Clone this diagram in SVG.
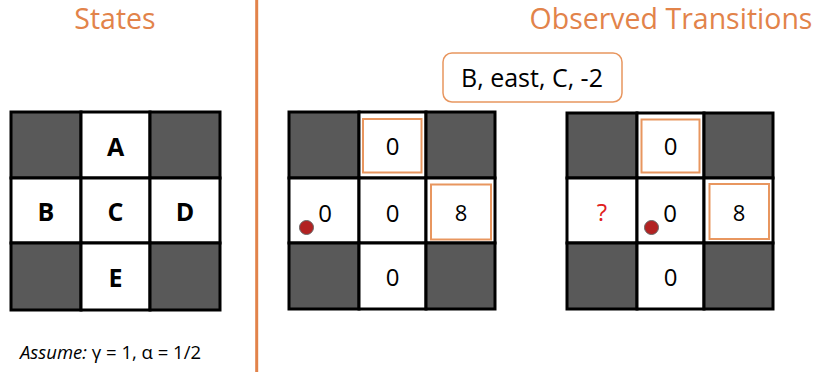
<svg xmlns="http://www.w3.org/2000/svg" width="815" height="372" viewBox="0 0 815 372">
<style>
.title{font-family:"Open Sans","Noto Sans",sans-serif;font-size:28.5px;fill:#E2834A;}
.dark{fill:#595959;stroke:#000;stroke-width:3;}
.light{fill:#fff;stroke:#000;stroke-width:3;}
.lbl{font-family:"Open Sans","Noto Sans",sans-serif;font-weight:bold;font-size:25px;fill:#000;text-anchor:middle;}
.val{font-family:"Open Sans","Noto Sans",sans-serif;font-size:24px;fill:#000;text-anchor:middle;}
.val8{font-family:"Open Sans","Noto Sans",sans-serif;font-size:22px;fill:#000;text-anchor:middle;}
.hl{fill:none;stroke:#E8965F;stroke-width:2;}
.dot{fill:#B22222;stroke:#666;stroke-width:1;}
</style>
<rect width="815" height="372" fill="#fff"/>
<line x1="256.7" y1="0" x2="256.7" y2="372" stroke="#E2834A" stroke-width="3"/>
<text class="title" x="115" y="29" text-anchor="middle">States</text>
<text class="title" x="671" y="29" text-anchor="middle">Observed Transitions</text>

<g id="states-grid">
<rect class="dark" x="11" y="112" width="70" height="66"/>
<rect class="light" x="81" y="112" width="69" height="66"/>
<rect class="dark" x="150" y="112" width="70" height="66"/>
<rect class="light" x="11" y="178" width="70" height="65"/>
<rect class="light" x="81" y="178" width="69" height="65"/>
<rect class="light" x="150" y="178" width="70" height="65"/>
<rect class="dark" x="11" y="243" width="70" height="67"/>
<rect class="light" x="81" y="243" width="69" height="67"/>
<rect class="dark" x="150" y="243" width="70" height="67"/>
</g>
<g id="A"><text class="lbl" x="115.5" y="156">A</text></g>
<g id="B"><text class="lbl" x="46" y="221">B</text></g>
<g id="C"><text class="lbl" x="115.5" y="221">C</text></g>
<g id="D"><text class="lbl" x="185" y="221">D</text></g>
<g id="E"><text class="lbl" x="115.5" y="287">E</text></g>

<text x="20" y="359" font-family="'Open Sans','Noto Sans',sans-serif" font-size="18.5" fill="#000"><tspan font-style="italic">Assume:</tspan> γ = 1, α = 1/2</text>

<g id="transition-label">
<rect x="443" y="53" width="179" height="49" rx="9" fill="#fff" stroke="#E8965F" stroke-width="1.5"/>
<text x="532" y="87" font-family="'Open Sans','Noto Sans',sans-serif" font-size="25" text-anchor="middle" fill="#000">B, east, C, -2</text>
</g>

<g id="before-grid">
<rect class="dark" x="289" y="112" width="70" height="66"/>
<rect class="light" x="359" y="112" width="67" height="66"/>
<rect class="dark" x="426" y="112" width="69" height="66"/>
<rect class="light" x="289" y="178" width="70" height="65"/>
<rect class="light" x="359" y="178" width="67" height="65"/>
<rect class="light" x="426" y="178" width="69" height="65"/>
<rect class="dark" x="289" y="243" width="70" height="66"/>
<rect class="light" x="359" y="243" width="67" height="66"/>
<rect class="dark" x="426" y="243" width="69" height="66"/>
<rect class="hl" x="363" y="119" width="58.5" height="53.5"/>
<rect class="hl" x="431" y="184.5" width="60" height="55"/>
<text class="val" x="392.5" y="155">0</text>
<text class="val" x="325" y="222">0</text>
<text class="val" x="392.5" y="222">0</text>
<text class="val8" x="461" y="221">8</text>
<text class="val" x="392.5" y="286">0</text>
<circle class="dot" cx="306.5" cy="227.5" r="7"/>
</g>

<g id="after-grid">
<rect class="dark" x="567" y="113" width="70" height="65"/>
<rect class="light" x="637" y="113" width="67" height="65"/>
<rect class="dark" x="704" y="113" width="69" height="65"/>
<rect class="light" x="567" y="178" width="70" height="65"/>
<rect class="light" x="637" y="178" width="67" height="65"/>
<rect class="light" x="704" y="178" width="69" height="65"/>
<rect class="dark" x="567" y="243" width="70" height="66"/>
<rect class="light" x="637" y="243" width="67" height="66"/>
<rect class="dark" x="704" y="243" width="69" height="66"/>
<rect class="hl" x="641.5" y="119.5" width="58" height="53"/>
<rect class="hl" x="709.5" y="184" width="59.5" height="55"/>
<text class="val" x="670.5" y="155">0</text>
<text class="val" x="602" y="221" style="fill:#E02020">?</text>
<text class="val" x="670" y="222">0</text>
<text class="val8" x="739" y="221">8</text>
<text class="val" x="670.5" y="286">0</text>
<circle class="dot" cx="651.5" cy="227.5" r="7"/>
</g>
</svg>
